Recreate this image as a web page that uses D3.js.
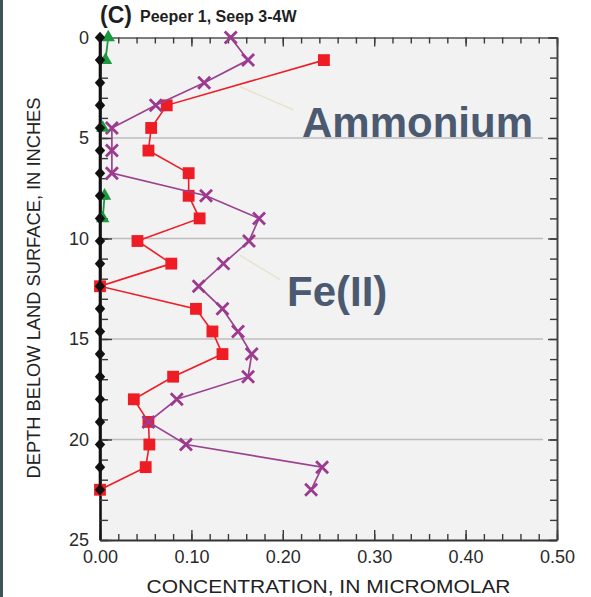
<!DOCTYPE html>
<html>
<head>
<meta charset="utf-8">
<script src="https://cdn.jsdelivr.net/npm/d3@7"></script>
<style>
  html, body { margin: 0; padding: 0; background: #fff; }
  svg { display: block; font-family: "Liberation Sans", Arial, Helvetica, sans-serif; }
</style>
</head>
<body>
<svg id="chart" width="591" height="597"></svg>
<script>
// Sampling depths of the peeper cells, inches below land surface
const depth = [0, 1.125, 2.25, 3.375, 4.5, 5.625, 6.75, 7.875, 9, 10.125, 11.25,
               12.375, 13.5, 14.625, 15.75, 16.875, 18, 19.125, 20.25, 21.375, 22.5];

// Fe(II), micromolar
const fe2 = [0.143, 0.162, 0.114, 0.061, 0.013, 0.013, 0.013, 0.116, 0.174, 0.163, 0.135,
             0.108, 0.134, 0.151, 0.166, 0.162, 0.084, 0.053, 0.094, 0.243, 0.231];

// Ammonium, micromolar (null = no sample)
const ammonium = [null, 0.245, null, 0.073, 0.056, 0.053, 0.097, 0.097, 0.109, 0.041, 0.078,
                  0, 0.105, 0.123, 0.134, 0.080, 0.037, 0.053, 0.054, 0.050, 0];

// Third constituent (green triangles), null = not detected
const green = [0.009, 0.006, null, null, 0.003, null, null, 0.005, 0.003, null, null,
               null, null, null, null, null, null, null, null, null, null];

// Zero-concentration markers along the left axis
const baseline = [0, 0, 0, 0, 0, 0, 0, 0, 0, 0, 0, 0, 0, 0, 0, 0, 0, 0, 0, 0, 0];

// Axis ticks and labels
const xTicks = [0, 0.1, 0.2, 0.3, 0.4, 0.5];
const xTickLabels = ["0.00", "0.10", "0.20", "0.30", "0.40", "0.50"];
const yTicks = [0, 5, 10, 15, 20, 25];
const yTickLabels = ["0", "5", "10", "15", "20", "25"];
const gridDepths = [5, 10, 15, 20];

// Callout labels: [concentration, depth] at the line end, text
const labels = [
  { name: "Ammonium", from: [0.153, 2.44], to: [0.212, 3.61] },
  { name: "Fe(II)",   from: [0.153, 10.83], to: [0.197, 12.05] }
];

const svg = d3.select("#chart");
const W = 591, H = 597;
const L = 100, R = 557, T = 37.5, B = 540;

const x = d3.scaleLinear().domain([0, 0.5]).range([L, R]);
const y = d3.scaleLinear().domain([0, 25]).range([T, B]);

// page background and dark edge strip
svg.append("rect").attr("width", W).attr("height", H).attr("fill", "#fff");
svg.append("rect").attr("x", 0).attr("y", 0).attr("width", 3).attr("height", H).attr("fill", "#3e525c");

// plot area
svg.append("rect").attr("x", L).attr("y", T).attr("width", R - L).attr("height", B - T).attr("fill", "#f2f2f2");

// horizontal grid lines
svg.append("g").selectAll("line").data(gridDepths).join("line")
  .attr("x1", L).attr("x2", R - 14)
  .attr("y1", d => y(d)).attr("y2", d => y(d))
  .attr("stroke", "#bdbdbd").attr("stroke-width", 1.5);

function styleAxis(g, domainColor, domainWidth) {
  g.select(".domain").attr("stroke", domainColor).attr("stroke-width", domainWidth);
  g.selectAll(".tick line").attr("stroke", "#3a3a3a").attr("stroke-width", 1.4);
  g.selectAll(".tick text").attr("fill", "#2a2a2a").attr("font-size", 18)
    .attr("font-family", "\"Liberation Sans\", Arial, sans-serif");
}

// top axis: minor and major ticks, no labels
svg.append("g").attr("transform", `translate(0,${T})`)
  .call(d3.axisTop(x).ticks(25).tickSize(-6).tickSizeOuter(0).tickFormat(""))
  .call(g => styleAxis(g, "#555", 1.5));
svg.append("g").attr("transform", `translate(0,${T})`)
  .call(d3.axisTop(x).tickValues(xTicks).tickSize(-9).tickSizeOuter(0).tickFormat(""))
  .call(g => { g.select(".domain").remove(); styleAxis(g, "#555", 1.5); });

// right axis
svg.append("g").attr("transform", `translate(${R},0)`)
  .call(d3.axisRight(y).ticks(25).tickSize(-7).tickSizeOuter(0).tickFormat(""))
  .call(g => styleAxis(g, "#444", 2));
svg.append("g").attr("transform", `translate(${R},0)`)
  .call(d3.axisRight(y).tickValues(yTicks).tickSize(-9).tickSizeOuter(0).tickFormat(""))
  .call(g => { g.select(".domain").remove(); styleAxis(g, "#444", 2); });

// bottom axis
svg.append("g").attr("transform", `translate(0,${B})`)
  .call(d3.axisBottom(x).ticks(25).tickSize(-6).tickSizeOuter(0).tickFormat(""))
  .call(g => styleAxis(g, "#333", 2));
svg.append("g").attr("transform", `translate(0,${B})`)
  .call(d3.axisBottom(x).tickValues(xTicks).tickSize(-10).tickSizeOuter(0).tickPadding(10)
    .tickFormat((d, i) => xTickLabels[i]))
  .call(g => { g.select(".domain").remove(); styleAxis(g, "#333", 2); });

// left axis
svg.append("g").attr("transform", `translate(${L},0)`)
  .call(d3.axisLeft(y).ticks(25).tickSize(-8).tickSizeOuter(0).tickFormat(""))
  .call(g => styleAxis(g, "#111", 2.6));
svg.append("g").attr("transform", `translate(${L},0)`)
  .call(d3.axisLeft(y).tickValues(yTicks).tickSize(-12).tickSizeOuter(0).tickPadding(11)
    .tickFormat((d, i) => yTickLabels[i]))
  .call(g => { g.select(".domain").remove(); styleAxis(g, "#111", 2.6); });

// callout leader lines
svg.append("g").selectAll("line").data(labels).join("line")
  .attr("x1", d => x(d.from[0])).attr("y1", d => y(d.from[1]))
  .attr("x2", d => x(d.to[0])).attr("y2", d => y(d.to[1]))
  .attr("stroke", "#e8e3cd").attr("stroke-width", 1.5);

// custom marker shapes
const diamondSym = { draw(ctx, size) { const w = 5.2, h = 5.8;
  ctx.moveTo(0, -h); ctx.lineTo(w, 0); ctx.lineTo(0, h); ctx.lineTo(-w, 0); ctx.closePath(); } };
const crossSym = { draw(ctx, size) { const s = 6;
  ctx.moveTo(-s, -s); ctx.lineTo(s, s); ctx.moveTo(s, -s); ctx.lineTo(-s, s); } };

const rows = depth.map((d, i) => ({ d, fe: fe2[i], nh: ammonium[i], gr: green[i], z: baseline[i] }));
const plot = svg.append("g");

// Ammonium (red): missing samples are skipped, the line joins the neighbours
const nhRows = rows.filter(r => r.nh !== null);
plot.append("path").datum(nhRows)
  .attr("fill", "none").attr("stroke", "#ee1c25").attr("stroke-width", 1.6)
  .attr("d", d3.line().x(r => x(r.nh)).y(r => y(r.d)));
plot.append("g").selectAll("path").data(nhRows).join("path")
  .attr("transform", r => `translate(${x(r.nh)},${y(r.d)})`)
  .attr("d", d3.symbol(d3.symbolSquare, 140)())
  .attr("fill", "#ee1c25");

// Fe(II) (purple crosses)
plot.append("path").datum(rows)
  .attr("fill", "none").attr("stroke", "#9b4290").attr("stroke-width", 1.7)
  .attr("d", d3.line().x(r => x(r.fe)).y(r => y(r.d)));
plot.append("g").selectAll("path").data(rows).join("path")
  .attr("transform", r => `translate(${x(r.fe)},${y(r.d)})`)
  .attr("d", d3.symbol(crossSym, 64)())
  .attr("fill", "none").attr("stroke", "#9b3a8e").attr("stroke-width", 2.8);

// green triangles, line broken where not detected
const grRows = rows.filter(r => r.gr !== null);
plot.append("path").datum(rows)
  .attr("fill", "none").attr("stroke", "#1a9a3e").attr("stroke-width", 1.8)
  .attr("d", d3.line().defined(r => r.gr !== null).x(r => x(r.gr)).y(r => y(r.d)));
plot.append("g").selectAll("path").data(grRows).join("path")
  .attr("transform", r => `translate(${x(r.gr)},${y(r.d)})`)
  .attr("d", d3.symbol(d3.symbolTriangle, 78)())
  .attr("fill", "#1a9a3e");

// zero markers (black diamonds)
plot.append("path").datum(rows)
  .attr("fill", "none").attr("stroke", "#111").attr("stroke-width", 2.6)
  .attr("d", d3.line().x(r => x(r.z)).y(r => y(r.d)));
plot.append("g").selectAll("path").data(rows).join("path")
  .attr("transform", r => `translate(${x(r.z)},${y(r.d)})`)
  .attr("d", d3.symbol(diamondSym, 60)())
  .attr("fill", "#111");

// callout text
svg.append("text").attr("x", 302).attr("y", 137)
  .attr("font-size", 42).attr("font-weight", "bold").attr("fill", "#4b5a70")
  .text(labels[0].name);
svg.append("text").attr("x", 287).attr("y", 306)
  .attr("font-size", 42).attr("font-weight", "bold").attr("fill", "#4b5a70")
  .text(labels[1].name);

// title
const title = svg.append("text").attr("y", 23).attr("fill", "#1e1e1e").attr("font-weight", "bold");
title.append("tspan").attr("x", 100).attr("font-size", 23).text("(C)");
title.append("tspan").attr("x", 140).attr("dy", -1).attr("font-size", 16).text("Peeper 1, Seep 3-4W");

// axis titles
svg.append("text").attr("x", 328.5).attr("y", 593)
  .attr("text-anchor", "middle").attr("font-size", 18).attr("fill", "#222")
  .attr("textLength", 364).attr("lengthAdjust", "spacingAndGlyphs")
  .text("CONCENTRATION, IN MICROMOLAR");
svg.append("text")
  .attr("transform", "translate(40,288) rotate(-90)")
  .attr("text-anchor", "middle").attr("font-size", 18).attr("fill", "#222")
  .attr("textLength", 381).attr("lengthAdjust", "spacingAndGlyphs")
  .text("DEPTH BELOW LAND SURFACE, IN INCHES");
</script>
</body>
</html>
